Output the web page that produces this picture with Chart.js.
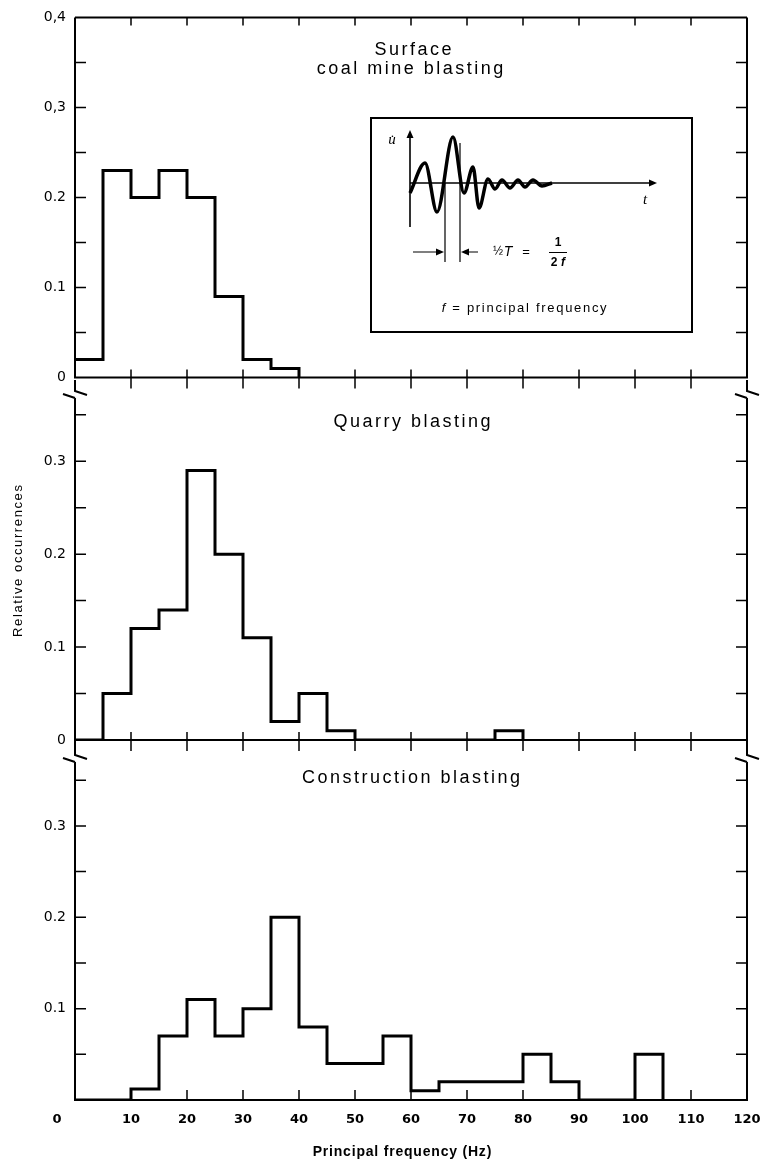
<!DOCTYPE html>
<html>
<head>
<meta charset="utf-8">
<script src="https://cdn.jsdelivr.net/npm/chart.js@4.4.1/dist/chart.umd.min.js"></script>
<style>
  body { margin: 0; background: #fff; }
  #wrap { position: relative; width: 763px; height: 1165px; }
  #wrap canvas { position: absolute; left: 0; }
</style>
</head>
<body>
<div id="wrap">
  <canvas id="c1" width="763" height="395" style="top:0px"></canvas>
  <canvas id="c2" width="763" height="380" style="top:380px"></canvas>
  <canvas id="c3" width="763" height="425" style="top:740px"></canvas>
  <canvas id="inset" width="323" height="216" style="left:370px;top:117px"></canvas>
</div>
<script>
// -------------------------------
// DATA
// -------------------------------
const BIN_WIDTH = 5; // Hz

// relative occurrences per 5 Hz bin, starting at 0 Hz
const coalBins = [0.02, 0.23, 0.20, 0.23, 0.20, 0.09, 0.02, 0.01];
const quarryBins = [0, 0.05, 0.12, 0.14, 0.29, 0.20, 0.11, 0.02, 0.05, 0.01, 0, 0, 0, 0, 0, 0.01];
const constructionBins = [0, 0, 0.012, 0.07, 0.11, 0.07, 0.10, 0.20, 0.08, 0.04, 0.04, 0.07, 0.01,
                          0.02, 0.02, 0.02, 0.05, 0.02, 0, 0, 0.05];

const panelTitles = [["Surface", "coal mine blasting"], ["Quarry blasting"], ["Construction blasting"]];

const xLabelValues = [10, 20, 30, 40, 50, 60, 70, 80, 90, 100, 110, 120];
const xLabels = ["10", "20", "30", "40", "50", "60", "70", "80", "90", "100", "110", "120"];
const xFrameTicks = [10, 20, 30, 40, 50, 60, 70, 80, 90, 100, 110];

const yTicks1 = [0, 0.1, 0.2, 0.3, 0.4];
const yLabels1 = ["0", "0.1", "0.2", "0,3", "0,4"];
const yTicks2 = [0, 0.1, 0.2, 0.3];
const yLabels2 = ["0", "0.1", "0.2", "0.3"];
const yTicks3 = [0.1, 0.2, 0.3];
const yLabels3 = ["0.1", "0.2", "0.3"];
const yFrameTicks = [0.05, 0.1, 0.15, 0.2, 0.25, 0.3, 0.35];

// inset sketch: extrema of the velocity trace (arbitrary units)
const waveT = [0, 1.5, 2.7, 4.3, 5.4, 6.3, 6.9, 7.8, 8.5, 9.2, 10.0, 10.8, 11.5, 12.3, 13.2, 14.2];
const waveU = [-1.0, 2.0, -2.9, 4.6, -1.0, 1.6, -2.5, 0.4, -0.6, 0.3, -0.5, 0.3, -0.4, 0.3, -0.3, 0];

Chart.defaults.color = "#000";
Chart.defaults.animation = false;

function stepPoints(bins) {
    const pts = bins.map((v, i) => ({ x: i * BIN_WIDTH, y: v }));
    pts.push({ x: bins.length * BIN_WIDTH, y: 0 });
    return pts;
}

function spacedText(ctx, text, x, y, font, spacing) {
    ctx.font = font;
    ctx.letterSpacing = spacing + "px";
    const w = ctx.measureText(text).width - spacing;
    ctx.textAlign = "left";
    ctx.fillText(text, x - w / 2, y);
    ctx.letterSpacing = "0px";
}

// -------------------------------
// FRAME, TICKS AND LABELS OF A PANEL
// -------------------------------
function framePlugin(cfg) {
    return {
        id: "frame",
        afterDraw(chart) {
            const ctx = chart.ctx;
            const { left, right, top, bottom } = chart.chartArea;
            const xs = chart.scales.x, ys = chart.scales.y;
            ctx.save();
            ctx.strokeStyle = "#000";
            ctx.fillStyle = "#000";
            ctx.lineWidth = 2;
            ctx.beginPath();
            if (cfg.gapAbove) {
                // broken axis marks
                [left, right].forEach(x => {
                    ctx.moveTo(x, top - cfg.gapAbove); ctx.lineTo(x, top - 7);
                    ctx.lineTo(x + 12, top - 3);
                    ctx.moveTo(x - 12, top - 4); ctx.lineTo(x, top);
                });
            } else {
                ctx.moveTo(left, top); ctx.lineTo(right, top);
            }
            ctx.moveTo(left, top); ctx.lineTo(left, bottom);
            ctx.moveTo(right, top); ctx.lineTo(right, bottom);
            ctx.moveTo(left - 1, bottom); ctx.lineTo(right + 1, bottom);
            ctx.stroke();

            ctx.lineWidth = 1.5;
            ctx.beginPath();
            yFrameTicks.forEach(v => {
                const y = ys.getPixelForValue(v);
                ctx.moveTo(left, y); ctx.lineTo(left + 11, y);
                ctx.moveTo(right, y); ctx.lineTo(right - 11, y);
            });
            xFrameTicks.forEach(v => {
                const x = xs.getPixelForValue(v);
                if (!cfg.gapAbove) { ctx.moveTo(x, top); ctx.lineTo(x, top + 8); }
                ctx.moveTo(x, bottom - cfg.tickUp); ctx.lineTo(x, bottom + cfg.tickDown);
            });
            ctx.stroke();

            ctx.textBaseline = "middle";
            cfg.titles.forEach(t => spacedText(ctx, t.text, t.x, t.y, '18px "Liberation Sans"', 2.5));
            if (cfg.extra) cfg.extra(ctx);
            ctx.restore();
        }
    };
}

function makePanel(id, bins, cfg) {
    const showX = !!cfg.xAxis;
    return new Chart(document.getElementById(id), {
        type: "line",
        data: {
            datasets: [{
                data: stepPoints(bins),
                stepped: true,
                borderColor: "#000",
                borderWidth: 3,
                pointRadius: 0,
                fill: false,
                borderJoinStyle: "miter"
            }]
        },
        options: {
            responsive: false,
            layout: { padding: { left: 0, right: 16, top: cfg.padTop, bottom: cfg.padBottom } },
            plugins: { legend: { display: false }, tooltip: { enabled: false } },
            scales: {
                x: {
                    type: "linear", min: 0, max: 120,
                    display: showX,
                    afterBuildTicks: s => { s.ticks = xLabelValues.map(v => ({ value: v })); },
                    afterFit: s => {
                        if (showX) s.height = 65;
                        s.paddingLeft = 0;
                        s.paddingRight = 0;
                    },
                    grid: { display: false, drawTicks: false },
                    border: { display: false },
                    ticks: {
                        padding: 12, maxRotation: 0, autoSkip: false,
                        font: { family: "DejaVu Sans", size: 13, weight: "bold" },
                        callback: (v, i) => xLabels[i]
                    }
                },
                y: {
                    min: 0, max: cfg.yMax,
                    afterBuildTicks: s => { s.ticks = cfg.yTicks.map(v => ({ value: v })); },
                    afterFit: s => { s.width = 75; },
                    grid: { display: false, drawTicks: false },
                    border: { display: false },
                    ticks: {
                        padding: 9, autoSkip: false,
                        font: { family: "DejaVu Sans", size: 14 },
                        callback: (v, i) => cfg.yLabels[i]
                    }
                }
            }
        },
        plugins: [framePlugin(cfg)]
    });
}

makePanel("c1", coalBins, {
    padTop: 14, padBottom: 15, yMax: 0.4, yTicks: yTicks1, yLabels: yLabels1,
    gapAbove: 0, tickUp: 8, tickDown: 11,
    titles: [{ text: panelTitles[0][0], x: 413, y: 50 }, { text: panelTitles[0][1], x: 410, y: 69 }]
});

makePanel("c2", quarryBins, {
    padTop: 18, padBottom: 20, yMax: 0.368, yTicks: yTicks2, yLabels: yLabels2,
    gapAbove: 18, tickUp: 8, tickDown: 11,
    titles: [{ text: panelTitles[1][0], x: 412, y: 42 }],
    extra(ctx) {
        ctx.save();
        ctx.translate(18, 181);
        ctx.rotate(-Math.PI / 2);
        spacedText(ctx, "Relative occurrences", 0, 0, '13px "Liberation Sans"', 1.6);
        ctx.restore();
    }
});

makePanel("c3", constructionBins, {
    padTop: 22, padBottom: 0, yMax: 0.37, yTicks: yTicks3, yLabels: yLabels3,
    gapAbove: 22, tickUp: 10, tickDown: 0, xAxis: true,
    titles: [{ text: panelTitles[2][0], x: 411, y: 38 }],
    extra(ctx) {
        ctx.font = 'bold 13px "DejaVu Sans"';
        ctx.textAlign = "center";
        ctx.fillText("0", 57, 380);
        spacedText(ctx, "Principal frequency (Hz)", 402, 412, 'bold 14px "Liberation Sans"', 0.8);
    }
});

// -------------------------------
// INSET SKETCH
// -------------------------------
function arrowHead(ctx, x, y, dx, dy) {
    const len = 8, half = 3.5;
    const px = -dy, py = dx;
    ctx.beginPath();
    ctx.moveTo(x, y);
    ctx.lineTo(x - dx * len + px * half, y - dy * len + py * half);
    ctx.lineTo(x - dx * len - px * half, y - dy * len - py * half);
    ctx.closePath();
    ctx.fill();
}

const insetPlugin = {
    id: "insetSketch",
    beforeDraw(chart) {
        const ctx = chart.ctx;
        ctx.save();
        ctx.fillStyle = "#fff";
        ctx.fillRect(0, 0, chart.width, chart.height);
        ctx.restore();
    },
    beforeDatasetsDraw(chart) {
        const ctx = chart.ctx;
        const X = v => chart.scales.x.getPixelForValue(v);
        const Y = v => chart.scales.y.getPixelForValue(v);
        ctx.save();
        ctx.strokeStyle = "#000";
        ctx.fillStyle = "#000";
        ctx.lineWidth = 1.6;
        ctx.beginPath();
        ctx.moveTo(X(0), Y(-4.4)); ctx.lineTo(X(0), Y(5.0));
        ctx.moveTo(X(0), Y(0)); ctx.lineTo(X(24.2), Y(0));
        ctx.stroke();
        arrowHead(ctx, X(0), Y(5.3), 0, -1);
        arrowHead(ctx, X(24.7), Y(0), 1, 0);

        ctx.lineWidth = 1.2;
        ctx.beginPath();
        ctx.moveTo(X(3.5), Y(0)); ctx.lineTo(X(3.5), Y(-7.9));
        ctx.moveTo(X(5.0), Y(4.0)); ctx.lineTo(X(5.0), Y(-7.9));
        ctx.moveTo(X(0.3), Y(-6.9)); ctx.lineTo(X(2.8), Y(-6.9));
        ctx.moveTo(X(6.8), Y(-6.9)); ctx.lineTo(X(5.7), Y(-6.9));
        ctx.moveTo(X(13.9), Y(-6.95)); ctx.lineTo(X(15.7), Y(-6.95));
        ctx.stroke();
        arrowHead(ctx, X(3.4), Y(-6.9), 1, 0);
        arrowHead(ctx, X(5.1), Y(-6.9), -1, 0);

        ctx.textBaseline = "middle";
        ctx.textAlign = "center";
        ctx.font = 'italic 15px "Liberation Serif"';
        ctx.fillText("u\u0307", X(-1.8), Y(4.3));
        ctx.fillText("t", X(23.5), Y(-1.7));
        ctx.font = '12px "Liberation Sans"';
        ctx.fillText("\u00bd", X(8.8), Y(-6.9));
        ctx.font = 'italic 14px "Liberation Sans"';
        ctx.fillText("T", X(9.8), Y(-6.9));
        ctx.font = '13px "Liberation Sans"';
        ctx.fillText("=", X(11.6), Y(-6.9));
        ctx.font = 'bold 12px "Liberation Sans"';
        ctx.fillText("1", X(14.8), Y(-6.0));
        ctx.fillText("2", X(14.4), Y(-7.95));
        ctx.font = 'italic bold 12px "Liberation Sans"';
        ctx.fillText("f", X(15.3), Y(-7.95));

        // caption with italic f
        const cx = X(11.5), cy = Y(-12.5);
        ctx.font = '13px "Liberation Sans"';
        ctx.letterSpacing = "1.7px";
        const rest = " = principal frequency";
        const wr = ctx.measureText(rest).width;
        ctx.font = 'italic 13px "Liberation Sans"';
        const wf = ctx.measureText("f").width;
        const x0 = cx - (wf + wr) / 2;
        ctx.textAlign = "left";
        ctx.fillText("f", x0, cy);
        ctx.font = '13px "Liberation Sans"';
        ctx.fillText(rest, x0 + wf, cy);
        ctx.letterSpacing = "0px";
        ctx.restore();
    },
    afterDraw(chart) {
        const ctx = chart.ctx;
        const { left, right, top, bottom } = chart.chartArea;
        ctx.save();
        ctx.strokeStyle = "#000";
        ctx.lineWidth = 2;
        ctx.strokeRect(left + 1, top + 1, right - left - 2, bottom - top - 2);
        ctx.restore();
    }
};

new Chart(document.getElementById("inset"), {
    type: "line",
    data: {
        datasets: [{
            data: waveT.map((t, i) => ({ x: t, y: waveU[i] })),
            borderColor: "#000",
            borderWidth: 3.5,
            pointRadius: 0,
            fill: false,
            cubicInterpolationMode: "monotone"
        }]
    },
    options: {
        responsive: false,
        layout: { padding: 0 },
        plugins: { legend: { display: false }, tooltip: { enabled: false } },
        scales: {
            x: { type: "linear", display: false, min: -4, max: 28.3 },
            y: { display: false, min: -15, max: 6.6 }
        }
    },
    plugins: [insetPlugin]
});
</script>
</body>
</html>
